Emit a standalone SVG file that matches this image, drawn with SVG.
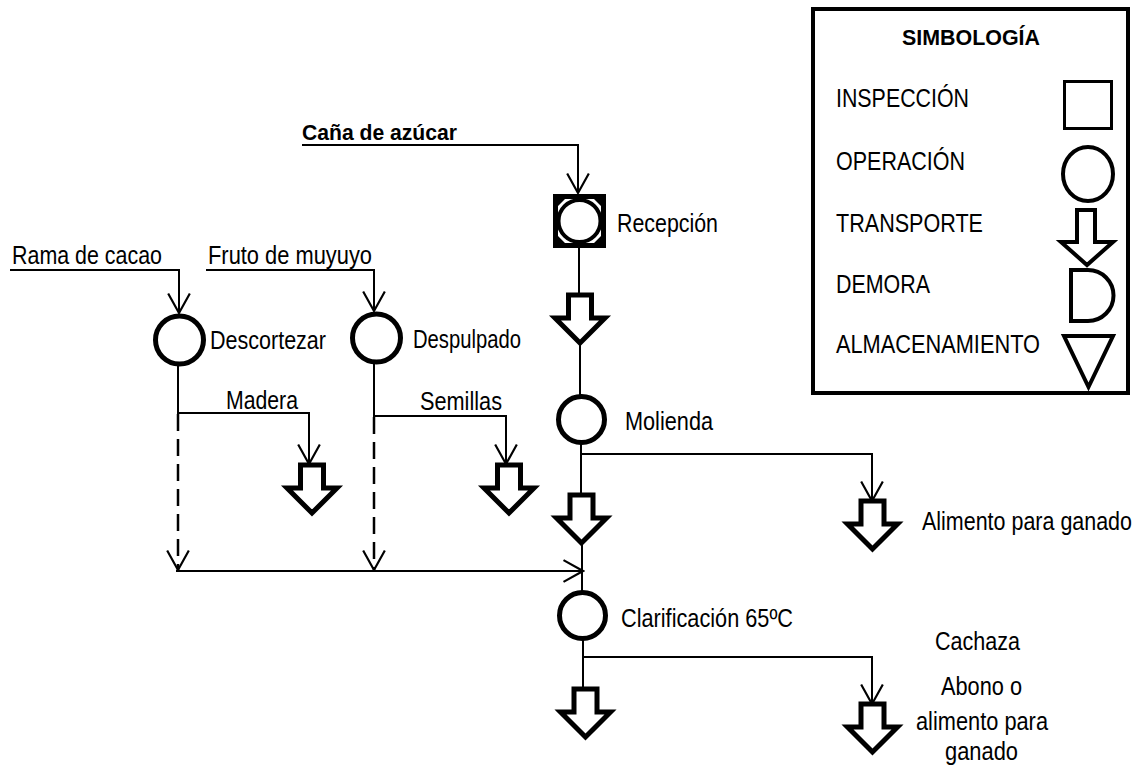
<svg xmlns="http://www.w3.org/2000/svg" width="1140" height="769" viewBox="0 0 1140 769">
<style>
text{font-family:"Liberation Sans Narrow","Arial Narrow","Liberation Sans",Arial,sans-serif;font-size:25px;fill:#000}
.b{font-family:"Liberation Sans",Arial,sans-serif;font-weight:bold;font-size:21.5px}
.ln{fill:none;stroke:#000;stroke-width:2}
.dash{fill:none;stroke:#000;stroke-width:2.5;stroke-dasharray:17 8}
.op{fill:#fff;stroke:#000;stroke-width:5}
.tr{fill:#fff;stroke:#000;stroke-width:5;stroke-linejoin:miter}
.lg{fill:#fff;stroke:#000;stroke-width:4}
</style>
<defs>
<marker id="ah" markerUnits="userSpaceOnUse" markerWidth="24" markerHeight="26" viewBox="-20 -12 22 24" refX="0" refY="0" orient="auto">
<path d="M-18,-10 L0,0 L-18,10" fill="none" stroke="#000" stroke-width="2"/>
</marker>
<path id="tarrow" d="M-11.5,0 H11.5 V23 H25 L0,48 L-25,23 H-11.5 Z"/>
</defs>
<rect width="1140" height="769" fill="#fff"/>

<g id="legend">
<rect x="813" y="9" width="315" height="384" fill="#fff" stroke="#000" stroke-width="4"/>
<text class="b" x="902" y="45" textLength="138" lengthAdjust="spacingAndGlyphs">SIMBOLOGÍA</text>
<text x="836" y="107" textLength="133" lengthAdjust="spacingAndGlyphs">INSPECCIÓN</text>
<rect x="1064.5" y="81.5" width="47" height="47" fill="#fff" stroke="#000" stroke-width="3"/>
<text x="836" y="170" textLength="129" lengthAdjust="spacingAndGlyphs">OPERACIÓN</text>
<ellipse cx="1088" cy="174" rx="25" ry="27" class="lg"/>
<text x="836" y="232" textLength="147" lengthAdjust="spacingAndGlyphs">TRANSPORTE</text>
<path class="lg" d="M1077,210 H1095 V242 H1113 L1087,265 L1061,242 H1077 Z"/>
<text x="836" y="293" textLength="94" lengthAdjust="spacingAndGlyphs">DEMORA</text>
<path class="lg" d="M1071,270 H1088 A25.5 25.5 0 0 1 1088,321 H1071 Z"/>
<text x="836" y="353" textLength="204" lengthAdjust="spacingAndGlyphs">ALMACENAMIENTO</text>
<path class="lg" d="M1064,336 H1113 L1088.5,387 Z"/>
</g>

<g id="connectors">
<path class="ln" d="M302,145 H578 V193" marker-end="url(#ah)"/>
<path class="ln" d="M579,248 V295"/>
<path class="ln" d="M580,343 V396"/>
<path class="ln" d="M581,443 V495"/>
<path class="ln" d="M581,454 H872 V501" marker-end="url(#ah)"/>
<path class="ln" d="M582,543 V591"/>
<path class="ln" d="M583,640 V689"/>
<path class="ln" d="M583,657 H872 V704" marker-end="url(#ah)"/>
<path class="ln" d="M10,270 H179 V313" marker-end="url(#ah)"/>
<path class="ln" d="M206,270 H374 V311" marker-end="url(#ah)"/>
<path class="ln" d="M178,366 V413 H309 V464" marker-end="url(#ah)"/>
<path class="ln" d="M374,364 V416 H506 V464" marker-end="url(#ah)"/>
<path class="dash" d="M178,414 V570" marker-end="url(#ah)"/>
<path class="dash" d="M374,417 V570" marker-end="url(#ah)"/>
<path class="ln" d="M176,571 H583" marker-end="url(#ah)"/>
</g>

<g id="cana">
<text class="b" x="302" y="140" textLength="155" lengthAdjust="spacingAndGlyphs">Caña de azúcar</text>
</g>

<g id="recepcion">
<rect x="555.5" y="196.5" width="48" height="49" fill="#fff" stroke="#000" stroke-width="5"/>
<path d="M558,199 h7 l-7,7 Z M601,199 h-7 l7,7 Z M558,243 h7 l-7,-7 Z M601,243 h-7 l7,-7 Z" fill="#000"/>
<circle cx="579.5" cy="221" r="21" fill="#fff" stroke="#000" stroke-width="4"/>
<text x="617" y="232" textLength="101" lengthAdjust="spacingAndGlyphs">Recepción</text>
</g>

<g id="transporte1"><use href="#tarrow" class="tr" transform="translate(580,295)"/></g>

<g id="molienda">
<circle cx="581.5" cy="419.5" r="23" class="op"/>
<text x="625" y="430" textLength="88" lengthAdjust="spacingAndGlyphs">Molienda</text>
</g>

<g id="transporte2"><use href="#tarrow" class="tr" transform="translate(581.5,495)"/></g>

<g id="alimento">
<use href="#tarrow" class="tr" transform="translate(872.5,501)"/>
<text x="922" y="530" textLength="210" lengthAdjust="spacingAndGlyphs">Alimento para ganado</text>
</g>

<g id="clarificacion">
<circle cx="582.5" cy="615.5" r="23" class="op"/>
<text x="621" y="627" textLength="172" lengthAdjust="spacingAndGlyphs">Clarificación 65ºC</text>
</g>

<g id="transporte3"><use href="#tarrow" class="tr" transform="translate(585.5,689)"/></g>

<g id="cachaza">
<use href="#tarrow" class="tr" transform="translate(872.5,704)"/>
<text x="935" y="650" textLength="85" lengthAdjust="spacingAndGlyphs">Cachaza</text>
<text x="941" y="695" textLength="81" lengthAdjust="spacingAndGlyphs">Abono o</text>
<text x="916" y="730" textLength="132" lengthAdjust="spacingAndGlyphs">alimento para</text>
<text x="945" y="760" textLength="73" lengthAdjust="spacingAndGlyphs">ganado</text>
</g>

<g id="rama">
<text x="12" y="264" textLength="150" lengthAdjust="spacingAndGlyphs">Rama de cacao</text>
</g>

<g id="fruto">
<text x="208" y="264" textLength="164" lengthAdjust="spacingAndGlyphs">Fruto de muyuyo</text>
</g>

<g id="descortezar">
<circle cx="179.5" cy="340" r="24" class="op"/>
<text x="210" y="349" textLength="116" lengthAdjust="spacingAndGlyphs">Descortezar</text>
</g>

<g id="despulpado">
<circle cx="376.5" cy="338" r="24" class="op"/>
<text x="413" y="348" textLength="108" lengthAdjust="spacingAndGlyphs">Despulpado</text>
</g>

<g id="madera">
<text x="226" y="409" textLength="72" lengthAdjust="spacingAndGlyphs">Madera</text>
<use href="#tarrow" class="tr" transform="translate(312,465)"/>
</g>

<g id="semillas">
<text x="420" y="410" textLength="82" lengthAdjust="spacingAndGlyphs">Semillas</text>
<use href="#tarrow" class="tr" transform="translate(509,465)"/>
</g>
</svg>
